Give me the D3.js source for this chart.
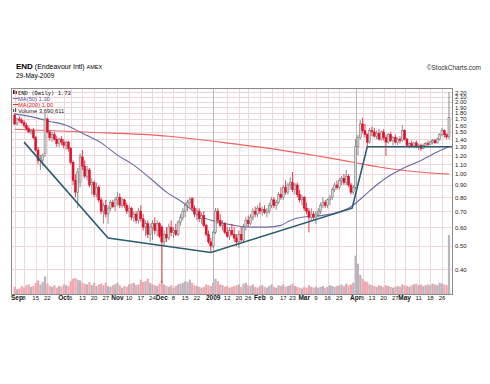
<!DOCTYPE html>
<html>
<head>
<meta charset="utf-8">
<script src="https://cdn.jsdelivr.net/npm/d3@7"></script>
<style>
body{margin:0;background:#fff}
svg{display:block;font-family:"Liberation Sans",Arial,sans-serif}
</style>
</head>
<body>
<div id="chart"></div>
<script>
// trading days Sep 2 2008 .. May 29 2009
let holidays = ["2008-11-27","2008-12-25","2009-01-01","2009-01-19","2009-02-16","2009-04-10","2009-05-25"];

let opens = [1.76,1.62,1.70,1.68,1.64,1.60,1.55,1.50,1.52,1.42, 1.26,1.14,1.14,1.22,1.70,1.50,1.42,1.46,1.40,1.34,
 1.40,1.36,1.32,1.36,1.28,1.12,0.94,0.84,0.92,1.18, 1.08,0.98,1.04,0.90,0.92,0.82,0.88,0.78,0.70,0.74,
 0.68,0.72,0.76,0.73,0.78,0.80,0.74,0.78,0.74,0.70, 0.72,0.66,0.68,0.64,0.70,0.65,0.60,0.62,0.56,0.60,
 0.62,0.58,0.62,0.60,0.52,0.56,0.54,0.60,0.57,0.58, 0.56,0.63,0.66,0.70,0.74,0.76,0.79,0.72,0.68,0.70,
 0.65,0.67,0.61,0.56,0.52,0.50,0.57,0.70,0.64,0.61, 0.62,0.57,0.55,0.58,0.56,0.54,0.52,0.56,0.53,0.60,
 0.64,0.62,0.66,0.70,0.68,0.72,0.70,0.71,0.69,0.70, 0.74,0.78,0.74,0.76,0.82,0.80,0.88,0.84,0.90,0.92,
 0.86,0.90,0.82,0.78,0.80,0.72,0.70,0.66,0.68,0.66, 0.68,0.70,0.74,0.76,0.74,0.78,0.80,0.86,0.90,0.88,
 0.94,0.96,0.92,0.98,0.90,0.84,0.88,1.30,1.42,1.62, 1.52,1.46,1.36,1.52,1.50,1.44,1.48,1.40,1.50,1.42,
 1.36,1.46,1.38,1.42,1.36,1.40,1.38,1.52,1.40,1.32, 1.34,1.31,1.35,1.30,1.32,1.28,1.32,1.34,1.33,1.36,
 1.38,1.35,1.40,1.46,1.52,1.46,1.43];
let highs = [1.80,1.72,1.74,1.72,1.68,1.64,1.58,1.54,1.56,1.44, 1.30,1.20,1.22,1.80,1.72,1.52,1.50,1.50,1.44,1.42,
 1.44,1.40,1.38,1.38,1.30,1.14,1.00,1.06,1.22,1.26, 1.14,1.08,1.06,0.96,0.94,0.92,0.90,0.80,0.76,0.78,
 0.74,0.78,0.78,0.80,0.84,0.83,0.80,0.79,0.76,0.74, 0.73,0.70,0.70,0.72,0.74,0.68,0.64,0.64,0.62,0.64,
 0.66,0.64,0.63,0.61,0.58,0.60,0.62,0.64,0.60,0.62, 0.64,0.68,0.72,0.76,0.78,0.80,0.80,0.74,0.72,0.72,
 0.69,0.70,0.62,0.58,0.54,0.58,0.72,0.72,0.68,0.64, 0.63,0.60,0.60,0.62,0.60,0.56,0.58,0.60,0.62,0.66,
 0.67,0.68,0.72,0.73,0.74,0.76,0.73,0.74,0.72,0.76, 0.80,0.80,0.78,0.84,0.88,0.90,0.94,0.92,0.97,1.02,
 0.92,0.92,0.86,0.82,0.81,0.76,0.72,0.72,0.70,0.70, 0.72,0.76,0.80,0.78,0.79,0.82,0.88,0.92,0.94,0.96,
 0.98,1.00,1.04,1.00,0.92,0.90,1.40,1.46,1.68,1.72, 1.62,1.48,1.56,1.58,1.56,1.52,1.54,1.52,1.54,1.46,
 1.48,1.50,1.44,1.46,1.42,1.44,1.60,1.54,1.42,1.36, 1.38,1.36,1.38,1.34,1.34,1.34,1.36,1.38,1.38,1.40,
 1.40,1.42,1.48,1.56,1.54,1.48,2.20];
let lows = [1.60,1.60,1.64,1.62,1.56,1.52,1.48,1.46,1.40,1.24, 1.10,1.04,1.08,1.18,1.48,1.38,1.36,1.38,1.30,1.30,
 1.32,1.28,1.26,1.24,1.10,0.90,0.80,0.72,0.88,1.04, 0.96,0.94,0.88,0.82,0.80,0.80,0.76,0.68,0.62,0.66,
 0.62,0.70,0.72,0.70,0.74,0.72,0.72,0.72,0.68,0.66, 0.64,0.63,0.62,0.62,0.63,0.58,0.55,0.54,0.52,0.53,
 0.56,0.55,0.54,0.35,0.50,0.52,0.53,0.55,0.54,0.55, 0.55,0.61,0.64,0.66,0.70,0.72,0.70,0.66,0.64,0.63,
 0.62,0.60,0.55,0.51,0.47,0.49,0.56,0.62,0.60,0.58, 0.56,0.54,0.53,0.55,0.52,0.50,0.49,0.52,0.52,0.58,
 0.60,0.61,0.64,0.66,0.66,0.68,0.67,0.68,0.66,0.68, 0.72,0.72,0.71,0.75,0.78,0.78,0.82,0.82,0.86,0.84,
 0.82,0.80,0.76,0.74,0.70,0.68,0.57,0.64,0.64,0.62, 0.66,0.68,0.72,0.72,0.72,0.74,0.78,0.84,0.86,0.86,
 0.90,0.90,0.90,0.88,0.82,0.82,0.86,1.20,1.40,1.48, 1.42,1.30,1.34,1.44,1.42,1.40,1.38,1.38,1.38,1.19,
 1.34,1.36,1.32,1.34,1.32,1.34,1.36,1.38,1.30,1.28, 1.30,1.28,1.28,1.26,1.25,1.27,1.30,1.31,1.32,1.33,
 1.34,1.34,1.38,1.44,1.42,1.40,1.40];
let closes = [1.62,1.70,1.68,1.64,1.60,1.55,1.50,1.52,1.42,1.26, 1.14,1.16,1.20,1.70,1.50,1.42,1.46,1.40,1.34,1.40,
 1.36,1.32,1.36,1.28,1.12,0.94,0.84,1.02,1.18,1.08, 0.98,1.04,0.90,0.92,0.82,0.88,0.78,0.70,0.74,0.68,
 0.72,0.76,0.73,0.78,0.80,0.74,0.78,0.74,0.70,0.72, 0.66,0.68,0.64,0.70,0.65,0.60,0.62,0.56,0.60,0.62,
 0.58,0.62,0.55,0.52,0.56,0.54,0.60,0.57,0.58,0.56, 0.63,0.66,0.70,0.74,0.76,0.78,0.72,0.68,0.70,0.65,
 0.67,0.61,0.56,0.52,0.50,0.57,0.70,0.64,0.61,0.62, 0.57,0.55,0.58,0.56,0.54,0.52,0.56,0.53,0.60,0.64,
 0.62,0.66,0.70,0.68,0.72,0.70,0.71,0.69,0.70,0.74, 0.78,0.74,0.76,0.82,0.80,0.88,0.84,0.90,0.92,0.86,
 0.90,0.82,0.78,0.80,0.72,0.70,0.66,0.68,0.66,0.68, 0.70,0.74,0.76,0.74,0.78,0.80,0.86,0.90,0.88,0.94,
 0.96,0.92,0.98,0.90,0.84,0.88,1.30,1.42,1.62,1.52, 1.46,1.36,1.52,1.50,1.44,1.48,1.40,1.50,1.42,1.36,
 1.46,1.38,1.42,1.36,1.40,1.38,1.52,1.40,1.32,1.34, 1.31,1.35,1.30,1.32,1.28,1.32,1.34,1.33,1.36,1.38,
 1.35,1.40,1.46,1.52,1.46,1.43,1.72];
// volume, millions of shares
let volumes = [0.45,0.30,0.35,0.50,0.40,0.55,0.60,0.45,0.50,0.70, 0.85,0.60,0.75,1.10,0.65,0.50,0.45,0.55,0.40,0.50,
 0.45,0.60,0.55,0.50,0.80,0.95,1.00,0.90,0.85,0.70, 0.65,0.60,0.75,0.55,0.70,0.50,0.60,0.65,0.55,0.70,
 0.50,0.45,0.55,0.60,0.70,0.55,0.40,0.50,0.45,0.60, 0.65,0.70,0.55,0.60,0.90,0.75,0.80,0.95,0.70,0.60,
 0.55,0.50,0.65,0.85,0.60,0.50,0.45,0.55,0.40,0.50, 0.60,0.65,0.70,0.80,0.75,0.90,0.70,0.55,0.50,0.45,
 0.40,0.45,0.60,0.55,0.50,0.70,0.95,0.80,0.60,0.55, 0.45,0.50,0.40,0.45,0.50,0.55,0.60,0.45,0.65,0.70,
 0.55,0.50,0.60,0.45,0.40,0.50,0.55,0.45,0.40,0.50, 0.60,0.45,0.40,0.55,0.50,0.60,0.45,0.50,0.55,0.65,
 0.50,0.45,0.40,0.35,0.45,0.40,0.55,0.45,0.40,0.45, 0.40,0.45,0.50,0.40,0.45,0.55,0.50,0.45,0.50,0.55,
 0.60,0.50,0.65,0.55,0.60,0.70,2.40,1.90,1.20,0.95, 0.80,0.75,0.60,0.55,0.50,0.45,0.55,0.50,0.45,0.55,
 0.50,0.45,0.40,0.45,0.50,0.45,0.60,0.55,0.50,0.45, 0.55,0.60,0.65,0.55,0.60,0.50,0.55,0.60,0.55,0.65,
 0.60,0.55,0.70,0.65,0.60,0.55,3.69];

// moving averages, [day index, value]
let ma50 = [[0,1.78],[8,1.73],[15,1.66],[22,1.60],[29,1.48],[37,1.35],[44,1.20],[51,1.09],[58,0.96],[65,0.84],
 [72,0.76],[79,0.67],[87,0.63],[94,0.61],[101,0.60],[108,0.60],[114,0.61],[118,0.64],[123,0.66],[131,0.67],
 [138,0.69],[144,0.73],[149,0.80],[155,0.90],[161,0.99],[165,1.04],[174,1.14],[182,1.25],[186,1.30]];
let ma200 = [[0,1.54],[30,1.50],[66,1.44],[88,1.36],[109,1.28],[145,1.12],[156,1.07],[165,1.04],[178,1.01],[186,1.00]];
// drawn trend line, [day index, price]
let trendLine = [[4,1.36],[40,0.54],[84,0.47],[144.5,0.72],[151,1.30],[187.3,1.30]];

let priceTicks = [0.40,0.50,0.60,0.70,0.80,0.90,1.00,1.10,1.20,1.30,1.40,1.50,1.60,1.70,1.80,1.90,2.00,2.10,2.20];
let dateTicks = [["2008-09-02","Sep",1],["2008-09-08","8"],["2008-09-15","15"],["2008-09-22","22"],
 ["2008-10-01","Oct",1],["2008-10-06","6"],["2008-10-13","13"],["2008-10-20","20"],["2008-10-27","27"],
 ["2008-11-03","Nov",1],["2008-11-10","10"],["2008-11-17","17"],["2008-11-24","24"],
 ["2008-12-01","Dec",1],["2008-12-08","8"],["2008-12-15","15"],["2008-12-22","22"],
 ["2009-01-02","2009",1],["2009-01-12","12"],["2009-01-20","20"],["2009-01-26","26"],
 ["2009-02-02","Feb",1],["2009-02-09","9"],["2009-02-17","17"],["2009-02-23","23"],
 ["2009-03-02","Mar",1],["2009-03-09","9"],["2009-03-16","16"],["2009-03-23","23"],
 ["2009-04-01","Apr",1],["2009-04-06","6"],["2009-04-13","13"],["2009-04-20","20"],["2009-04-27","27"],
 ["2009-05-01","May",1],["2009-05-11","11"],["2009-05-18","18"],["2009-05-26","26"]];

let fmt = d3.timeFormat("%Y-%m-%d");
let days = d3.timeDay.range(new Date(2008,8,2), new Date(2009,4,30))
  .filter(d => d.getDay() != 0 && d.getDay() != 6 && !holidays.includes(fmt(d)))
  .map(fmt);
console.log(days.length);

let data = days.map((d,i) => ({date:d, i:i, o:opens[i], h:highs[i], l:lows[i], c:closes[i], v:volumes[i],
  up: i == 0 ? closes[i] >= opens[i] : closes[i] >= closes[i-1]}));

const W = 490, H = 384;
const pLeft = 11, pRight = 452, pTop = 88, pBottom = 294;

let svg = d3.select("#chart").append("svg").attr("width", W).attr("height", H);

let x = d3.scaleLinear().domain([0, 186]).range([14.7, 449]);
let y = d3.scaleLog().domain([0.315, 2.29]).range([pBottom, pTop]);
let yVol = d3.scaleLinear().domain([0, 3.69]).range([pBottom, 235]);

// title
let title = svg.append("text").attr("x", 16).attr("y", 69).style("font-size", "7px").attr("fill", "#000");
title.append("tspan").style("font-weight", "bold").style("font-size", "8px").text("END");
title.append("tspan").text(" (Endeavour Intl) ");
title.append("tspan").style("font-size", "5.5px").text("AMEX");
svg.append("text").attr("x", 16).attr("y", 78).style("font-size", "6.5px").text("29-May-2009");
svg.append("text").attr("x", 481).attr("y", 70).attr("text-anchor", "end").style("font-size", "6.5px")
  .attr("fill", "#333").text("\u00a9StockCharts.com");

// grid
let grid = svg.append("g");
grid.selectAll(".hg").data(priceTicks).enter().append("line")
  .attr("x1", pLeft).attr("x2", pRight)
  .attr("y1", d => Math.round(y(d)) + 0.5).attr("y2", d => Math.round(y(d)) + 0.5)
  .attr("stroke", "#efd6dc").attr("stroke-width", 1);
grid.selectAll(".vg").data(dateTicks).enter().append("line")
  .attr("x1", d => Math.round(x(days.indexOf(d[0]))) + 0.5).attr("x2", d => Math.round(x(days.indexOf(d[0]))) + 0.5)
  .attr("y1", pTop).attr("y2", pBottom)
  .attr("stroke", d => (d[1] == "2009" || d[1] == "Apr") ? "#b8b8b8" : "#efd6dc");

// volume
svg.append("g").selectAll("rect").data(data).enter().append("rect")
  .attr("x", d => x(d.i) - 1.1).attr("width", 2.2)
  .attr("y", d => yVol(d.v)).attr("height", d => pBottom - yVol(d.v))
  .attr("fill", d => d.up ? "#bdb3bd" : "#f2a7ae");

// moving averages
let maLine = d3.line().x(d => x(d[0])).y(d => y(d[1])).curve(d3.curveMonotoneX);
svg.append("path").attr("d", maLine(ma200)).attr("fill", "none").attr("stroke", "#f06060").attr("stroke-width", 1.1);
svg.append("path").attr("d", maLine(ma50)).attr("fill", "none").attr("stroke", "#6a6aac").attr("stroke-width", 1.1);

// candles
let candles = svg.append("g").selectAll("g").data(data).enter().append("g");
candles.append("line")
  .attr("x1", d => x(d.i)).attr("x2", d => x(d.i))
  .attr("y1", d => y(d.h)).attr("y2", d => y(d.l))
  .attr("stroke", d => d.up ? "#6e6e6e" : "#e0102a").attr("stroke-width", 0.8);
candles.append("rect")
  .attr("x", d => x(d.i) - 1).attr("width", 2)
  .attr("y", d => y(Math.max(d.o, d.c)))
  .attr("height", d => Math.max(0.8, y(Math.min(d.o, d.c)) - y(Math.max(d.o, d.c))))
  .attr("fill", d => d.c > d.o ? "#d8d8d8" : (d.up ? "#222" : "#e0102a"))
  .attr("stroke", d => d.up ? "#6e6e6e" : "#e0102a").attr("stroke-width", 0.5);

// trend line
svg.append("path").attr("d", d3.line().x(d => x(d[0])).y(d => y(d[1]))(trendLine))
  .attr("fill", "none").attr("stroke", "#285d73").attr("stroke-width", 1.6);

// border
svg.append("rect").attr("x", pLeft + 0.5).attr("y", pTop + 0.5).attr("width", pRight - pLeft).attr("height", pBottom - pTop)
  .attr("fill", "none").attr("stroke", "#8a8a8a").attr("stroke-width", 1);

// price axis
let yAxis = d3.axisRight(y).tickValues(priceTicks).tickFormat(d3.format(".2f")).tickSize(0).tickPadding(3);
let ya = svg.append("g").attr("transform", "translate(" + pRight + ",0)").call(yAxis);
ya.select(".domain").remove();
ya.selectAll("text").style("font-size", "6px").style("font-family", "Liberation Sans, Arial").attr("fill", "#222");

// date axis
svg.append("g").selectAll("text").data(dateTicks).enter().append("text")
  .attr("x", d => Math.max(17, x(days.indexOf(d[0]))))
  .attr("y", 300).attr("text-anchor", "middle")
  .style("font-size", d => d[2] ? "6.5px" : "6px")
  .style("font-weight", d => d[2] ? "bold" : "normal")
  .attr("fill", "#111").text(d => d[1]);

// legend
let lg = svg.append("g").style("font-size", "5.8px");
lg.append("rect").attr("x", 13).attr("y", 90).attr("width", 1.5).attr("height", 4).attr("fill", "#222");
lg.append("rect").attr("x", 15.5).attr("y", 91).attr("width", 1.5).attr("height", 3).attr("fill", "#e0102a");
lg.append("text").attr("x", 18).attr("y", 94.5).style("font-family", "DejaVu Sans Mono, monospace").style("font-size", "5.5px")
  .attr("fill", "#111").text("END (Daily) 1.72");
lg.append("line").attr("x1", 13).attr("x2", 18).attr("y1", 98.5).attr("y2", 98.5).attr("stroke", "#6a6aac");
lg.append("text").attr("x", 18).attr("y", 100.5).attr("fill", "#5050a0").text("MA(50) 1.30");
lg.append("line").attr("x1", 13).attr("x2", 18).attr("y1", 104.5).attr("y2", 104.5).attr("stroke", "#f03030");
lg.append("text").attr("x", 18).attr("y", 106.5).attr("fill", "#e02020").text("MA(200) 1.00");
lg.append("rect").attr("x", 13).attr("y", 109).attr("width", 1.2).attr("height", 3).attr("fill", "#555");
lg.append("rect").attr("x", 15).attr("y", 108).attr("width", 1.2).attr("height", 4).attr("fill", "#555");
lg.append("text").attr("x", 18).attr("y", 112.5).attr("fill", "#222").text("Volume 3,690,611");
</script>
</body>
</html>
